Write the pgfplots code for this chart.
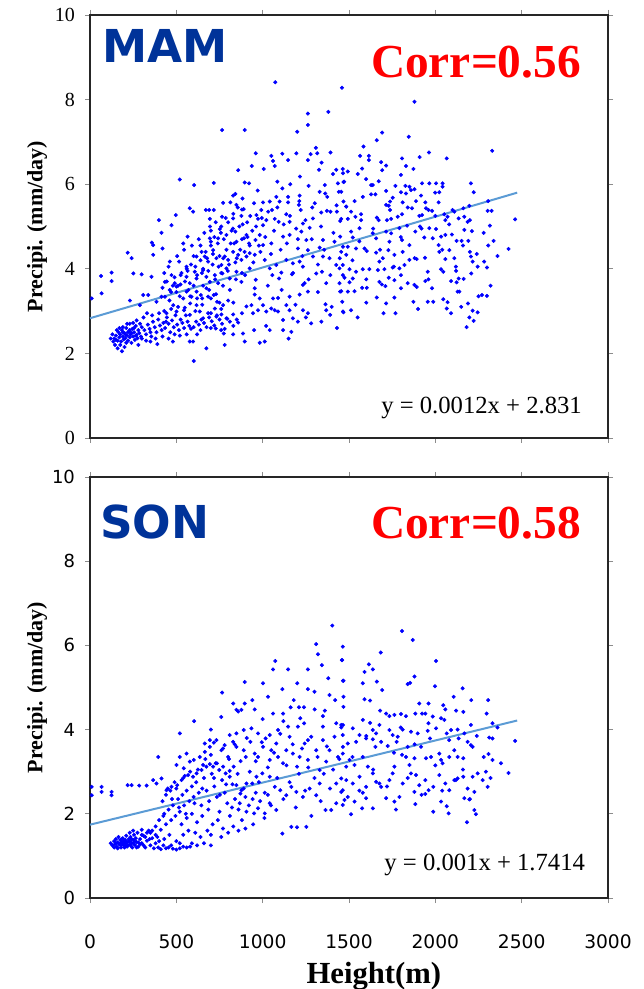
\documentclass[border=0pt]{standalone}
\usepackage{pgfplots}
\pgfplotsset{compat=1.18}
\usepackage{fontspec}
\setmainfont{Liberation Serif}
\setsansfont{DejaVu Sans}
\definecolor{dotblue}{RGB}{0,0,255}
\definecolor{fitblue}{RGB}{91,155,213}
\definecolor{seasonblue}{RGB}{0,51,153}
\definecolor{corrred}{RGB}{255,0,0}

\pgfplotsset{
  panel/.style={
    scale only axis, width=388.5pt,
    xmin=0, xmax=3000, ymin=0, ymax=10,
    xtick={0,500,...,3000}, ytick={0,2,...,10},
    tick align=outside, major tick length=3.75pt,
    tick style={black!45, line width=0.7pt},
    axis line style={black!85, line width=1.8pt},
    /pgf/number format/assume math mode=true,
    /pgf/number format/1000 sep={},
    clip=false,
  },
  dots/.style={only marks, mark=*, mark size=1.3pt, color=dotblue},
  fit/.style={color=fitblue, line width=1.5pt, no marks},
}
\tikzset{eqn/.style={anchor=base east, font=\fontsize{18.5}{18.5}\selectfont, inner sep=0pt}}

\begin{document}
\begin{tikzpicture}
\useasboundingbox (0,0) rectangle (482.25pt,741.75pt);

% ---------------- MAM ----------------
\begin{axis}[panel, height=317.25pt,
  at={(67.5pt,413.25pt)}, anchor=south west,
  xticklabels={},
  yticklabel style={font=\fontsize{15}{15}\selectfont, xshift=-4pt},
]
\addplot[dots] coordinates {
(1073,8.41)(1459,8.28)(1262,7.67)(1380,7.71)(1262,7.40)(765,7.28)(896,7.28)(1200,7.24)
(1308,6.86)(960,6.73)(1050,6.67)(1060,6.55)(1114,6.72)(1195,6.73)(1278,6.71)(1316,6.73)(1393,6.75)(1341,6.51)(1262,6.57)(1147,6.57)(1070,6.43)(1006,6.36)(937,6.43)(858,6.33)(1426,6.34)(1465,6.26)(1407,6.24)(1326,6.34)
(520,6.11)(603,5.98)(717,6.03)(896,6.04)(921,6.02)(971,5.85)(1085,6.06)(1160,6.0)(1114,5.9)(1216,6.18)(1266,5.96)(1360,5.98)(1436,6.02)(1472,6.06)(1441,5.82)(1330,5.82)(1362,5.78)(1214,5.73)(1147,5.70)(1079,5.70)(1041,5.59)(1002,5.57)(950,5.55)(883,5.66)(842,5.77)(829,5.73)(813,5.57)(848,5.51)(771,5.56)(890,5.41)(992,5.39)(1054,5.39)(1098,5.59)(1147,5.57)(1210,5.51)(1220,5.39)(1287,5.45)(1372,5.37)(1430,5.35)(1484,5.47)(1468,5.59)
(578,5.43)(597,5.35)(671,5.39)(694,5.18)(690,5.39)(717,5.39)(765,5.23)(829,5.19)(877,5.25)(964,5.27)(973,5.18)(1021,5.15)(1002,5.03)(1070,5.18)(1093,5.11)(1137,5.29)(1156,5.11)(1233,5.07)(1224,4.88)(1272,4.97)(1291,5.19)(1339,5.33)(1393,5.35)(1449,5.13)(1493,5.18)
(399,5.15)(497,5.27)(472,5.03)(414,4.85)(358,4.62)(366,4.56)(565,4.76)(540,4.6)(694,4.72)(700,4.64)(752,4.94)(742,4.72)(790,4.80)(842,4.88)(848,4.64)(892,4.72)(906,4.80)(921,4.6)(958,4.68)(983,4.8)(1002,4.56)(1050,4.6)(1118,4.76)(1156,4.8)(1204,4.70)(1253,4.68)(1204,4.48)(1262,4.44)(1330,4.5)(1349,4.68)(1416,4.64)(1449,4.76)(1465,4.52)(1484,4.33)
(218,4.38)(241,4.25)(366,4.33)(420,4.48)(462,4.17)(516,4.17)(559,4.05)(617,4.29)(646,4.4)(665,4.29)(684,4.17)(713,4.44)(732,4.25)(761,4.09)(780,4.29)(800,4.21)(829,4.4)(858,4.33)(877,4.21)(906,4.29)(925,4.37)(954,4.33)(987,4.4)(1012,4.21)(1041,4.01)(1079,4.09)(1137,4.21)(1175,4.13)(1214,4.17)(1233,4.05)(1291,4.29)(1349,4.29)(1387,4.25)(1426,4.09)(1445,4.01)(1465,3.85)
(64,3.83)(125,3.91)(125,3.71)(251,3.89)(299,3.87)(356,3.81)(434,3.69)(472,3.85)(491,3.66)(524,3.63)(559,3.81)(578,3.66)(607,3.93)(617,3.77)(655,3.97)(674,3.81)(694,3.69)(723,3.85)(742,3.66)(767,3.89)(790,4.01)(809,3.77)(848,3.93)(877,3.69)(925,4.01)(960,3.74)(954,3.54)(1056,3.85)(1095,3.77)(1108,3.91)(1170,3.87)(1233,3.62)(1243,3.66)(1310,3.89)(1343,3.93)(1368,3.66)(1445,3.66)(1449,3.46)
(10,3.3)(67,3.42)(231,3.25)(289,3.14)(308,3.38)(337,3.38)(385,3.22)(414,3.34)(462,3.5)(501,3.58)(559,3.46)(588,3.34)(617,3.46)(642,3.38)(674,3.54)(684,3.34)(717,3.38)(736,3.22)(723,3.06)(771,3.14)(954,3.39)(983,3.3)(1060,3.3)(1089,3.31)(1156,3.34)(1214,3.39)(1262,3.46)(1364,3.16)(1461,3.22)
(434,3.34)(482,3.14)(443,2.95)(501,2.99)(549,3.08)(578,2.91)(617,3.14)(636,2.99)(655,2.83)(684,2.95)(732,2.87)(761,2.92)(790,2.83)(829,2.92)(858,2.73)(906,3.11)(935,3.14)(944,2.95)(973,3.02)(1002,3.14)(1021,2.99)(1050,3.06)(1070,3.02)(1089,2.99)(1118,2.79)(1137,3.14)(1156,3.02)(1175,2.83)(1204,2.75)(1233,3.02)(1262,2.95)(1281,2.71)(1368,3.02)(1391,2.91)(1465,2.99)(886,2.47)(896,2.28)(983,2.25)(1012,2.28)(1041,2.55)(1118,2.55)(1166,2.51)(829,2.45)(780,2.2)(728,2.59)(775,2.47)(674,2.12)(601,1.82)(578,2.28)(597,2.28)
(1879,7.95)(1692,7.22)(1661,7.04)(1846,7.12)(1584,6.89)(1564,6.67)(1615,6.67)(1615,6.57)(1686,6.52)(1715,6.44)(1807,6.61)(1830,6.43)(1873,6.36)(1909,6.64)(1963,6.75)(2066,6.61)(2329,6.79)
(1464,6.36)(1493,6.3)(1551,6.24)(1576,6.37)(1599,6.12)(1628,5.98)(1638,5.98)(1672,6.07)(1692,6.33)(1801,6.22)(1769,5.96)(1827,5.96)(1850,5.94)(1879,5.88)(1923,6.02)(1965,6.02)(2004,6.02)(2042,6.02)(2042,5.94)(2206,6.02)(2222,5.81)(1468,6.05)(1455,5.82)
(1532,5.6)(1580,5.7)(1628,5.76)(1653,5.76)(1715,5.84)(1753,5.68)(1801,5.81)(1830,5.78)(1859,5.86)(1888,5.6)(1917,5.73)(1942,5.57)(1999,5.8)(2019,5.57)(2023,5.81)(1738,5.59)(1730,5.49)(1715,5.51)(1811,5.57)
(1484,5.47)(1512,5.35)(1537,5.23)(1570,5.29)(1570,5.15)(1455,5.18)(1661,5.21)(1672,5.15)(1738,5.39)(1744,5.18)(1782,5.23)(1807,5.29)(1865,5.43)(1907,5.25)(1923,5.27)(1946,5.43)(1961,5.39)(1981,5.37)(2052,5.29)(2058,5.15)(2071,5.23)(2100,5.39)(2110,5.35)(2135,5.19)(2162,5.43)(2168,5.23)(2187,5.11)(2197,5.49)(2306,5.6)(2303,5.37)(2326,5.37)(2316,5.02)(2462,5.17)
(1512,4.88)(1522,4.74)(1561,4.96)(1638,4.84)(1657,4.72)(1715,4.88)(1734,4.64)(1744,4.84)(1792,4.96)(1807,4.68)(1836,5.02)(1850,4.56)(1884,4.88)(1911,5.0)(1936,4.74)(1965,4.96)(1985,4.72)(2004,4.94)(2033,4.76)(2058,4.8)(2096,4.81)(2123,4.66)(2152,4.66)(2168,4.92)(2191,4.66)(2212,4.89)(2337,4.66)(2306,4.55)(2424,4.47)
(1455,4.4)(1493,4.52)(1541,4.48)(1590,4.48)(1603,4.42)(1657,4.38)(1676,4.17)(1696,4.25)(1728,4.44)(1763,4.33)(1811,4.4)(1821,4.09)(1850,4.21)(1892,4.23)(1940,4.26)(1956,3.93)(2019,4.56)(2023,4.4)(2058,4.23)(2081,4.44)(2110,4.25)(2119,4.05)(2200,4.4)(2206,4.29)(2216,4.17)(2245,4.05)(2283,4.17)(2299,4.03)
(1464,4.09)(1503,3.99)(1541,3.93)(1580,3.99)(1618,3.99)(1667,3.97)(1705,3.99)(1730,3.79)(1753,4.03)(1792,4.01)(1801,3.85)(1676,3.69)(1690,3.63)(1711,3.59)(1763,3.73)(1801,3.54)(1840,3.66)(1879,3.62)(1892,3.57)(1942,3.71)(1981,3.54)(2033,3.99)(2046,3.93)(2091,3.71)(2123,3.68)(2135,3.77)(2139,3.46)(2164,3.76)(2208,3.89)(1474,3.79)(1503,3.68)(1522,3.77)(1532,3.47)(1576,3.55)(1603,3.55)(1455,3.47)(1493,3.46)
(1468,2.97)(1512,3.02)(1661,3.32)(1715,3.18)(1763,3.32)(1769,2.95)(1873,3.22)(1956,3.22)(1988,3.22)(2046,3.28)(2071,3.21)(2066,3.06)(2091,2.95)(2129,3.46)(2189,3.18)(2216,3.01)(2245,2.97)(2270,3.38)(2299,3.36)(2197,2.85)(2222,2.77)(2181,2.62)
(140,2.35)(150,2.42)(160,2.3)(165,2.5)(170,2.38)(175,2.45)(180,2.28)(185,2.55)(190,2.4)(195,2.33)(200,2.48)(205,2.36)(210,2.6)(215,2.42)(220,2.3)(225,2.52)(230,2.38)(235,2.45)(240,2.25)(245,2.58)(250,2.4)(255,2.5)(260,2.32)(265,2.65)(270,2.44)(275,2.36)(280,2.55)(285,2.48)(290,2.7)(295,2.4)(300,2.62)(120,2.35)(130,2.45)(135,2.28)(145,2.2)(155,2.55)(175,2.2)(190,2.62)(200,2.15)(210,2.25)(230,2.7)(250,2.72)(185,2.05)(160,2.12)(220,2.5)(205,2.45)(240,2.48)(265,2.42)
(315,2.55)(325,2.45)(335,2.68)(345,2.58)(355,2.4)(365,2.75)(375,2.62)(385,2.5)(395,2.8)(405,2.66)(415,2.55)(425,2.72)(435,2.6)(445,2.85)(455,2.7)(465,2.5)(475,2.78)(485,2.62)(495,2.9)(505,2.68)(515,2.55)(525,2.8)(535,2.72)(545,2.6)(555,2.9)(565,2.75)(575,2.65)(585,2.58)(325,2.3)(350,2.28)(380,2.35)(420,2.4)(455,2.35)(490,2.45)(520,2.42)(560,2.45)(600,2.62)(615,2.75)(630,2.68)(645,2.8)(660,2.72)(675,2.62)(690,2.85)(705,2.76)(720,2.66)(735,2.9)(750,2.8)(765,2.7)(780,2.58)(795,2.82)(810,2.75)(640,2.55)(700,2.6)(760,2.55)(830,2.65)(850,2.8)
(400,2.95)(360,2.9)(430,3.0)(470,3.05)(510,3.1)(545,3.02)(580,3.18)(610,3.0)(440,2.75)(270,2.78)(310,2.85)(330,2.95)(620,2.45)(480,2.28)(390,2.22)(350,2.5)(300,2.35)(280,2.2)(255,2.6)(230,2.55)(190,2.5)(170,2.6)(150,2.32)(215,2.7)
(420,3.55)(445,3.7)(470,3.45)(490,3.8)(510,3.6)(530,3.9)(550,3.7)(570,3.5)(585,4.1)(600,3.6)(620,3.85)(640,4.2)(655,3.6)(670,4.4)(685,3.95)(700,4.55)(710,4.1)(725,3.75)(740,4.6)(750,4.3)(760,3.9)(775,4.7)(790,4.45)(805,4.1)(820,4.9)(835,4.6)(850,4.25)(865,5.0)(880,4.7)(895,4.4)(910,5.1)(925,4.55)(940,4.9)(655,4.0)(690,3.5)(730,3.4)(770,3.6)(810,3.5)(845,3.75)(880,3.9)(620,3.3)(580,3.35)(540,3.3)(500,3.45)(460,3.25)(600,4.3)(560,4.0)(520,3.35)(650,3.3)(700,3.3)(750,3.2)(800,3.25)(640,4.55)(760,5.0)(700,4.9)(800,5.1)(830,5.3)(880,5.4)(720,4.75)
(430,3.9)(455,4.05)(480,3.6)(505,4.3)(525,3.85)(545,4.45)(565,3.95)(590,4.55)(610,4.05)(630,4.7)(648,3.9)(662,4.85)(678,4.25)(695,5.0)(712,4.35)(728,5.1)(745,4.05)(758,4.85)(772,4.25)(786,5.2)(798,3.95)(815,4.6)(828,4.95)(842,4.15)(856,5.45)(870,4.45)(884,5.05)(898,3.85)(912,4.75)(928,5.25)(946,4.15)(962,5.0)(978,4.55)(995,5.2)(1015,4.75)(1032,5.35)(1048,4.35)(1066,4.9)(1085,5.45)(1104,4.45)(1122,5.05)(1140,4.6)(1158,5.25)(1176,3.9)(1194,4.95)(1212,5.6)(1230,4.3)(1248,5.15)(1266,3.75)(1284,4.7)(1302,5.55)(1320,4.1)(1338,5.0)(1356,4.45)(1374,5.7)(1392,3.85)(1410,4.85)(1428,5.5)(1446,4.25)
(1030,3.6)(1110,3.5)(1190,3.15)(1250,2.85)(1320,3.45)(1400,3.1)(1430,2.6)(1340,2.75)(1150,2.35)(1020,2.65)(950,2.55)(880,2.95)(830,3.2)(760,3.05)(700,2.95)(650,3.15)
(1520,4.2)(1560,4.65)(1600,3.75)(1640,4.95)(1680,4.45)(1720,5.15)(1760,4.05)(1800,4.75)(1840,5.45)(1880,4.25)(1920,4.95)(1960,3.75)(2000,5.25)(2040,4.45)(2080,5.05)(2120,3.95)(2160,4.55)(2200,5.15)(2240,4.35)(2280,4.85)(2320,3.6)(2360,4.3)(2250,3.35)(2150,3.1)(1900,3.05)(1700,2.95)(1600,3.2)(1550,2.85)
};
\addplot[fit] coordinates {(0,2.831) (2474,5.7998)};
\node[anchor=base west, font=\sffamily\bfseries\fontsize{34}{34}\selectfont, text=seasonblue, inner sep=0pt]
  at (rel axis cs:0.023,0.887) {MAM};
\node[anchor=base east, font=\bfseries\fontsize{35.5}{35.5}\selectfont, text=corrred, inner sep=0pt]
  at (rel axis cs:0.948,0.853) {Corr=0.56};
\node[eqn] at (rel axis cs:0.950,0.059) {y = 0.0012x + 2.831};
\node[rotate=90, font=\bfseries\fontsize{16.5}{16.5}\selectfont, inner sep=0pt]
  at (rel axis cs:-0.102,0.5) {Precipi. (mm/day)};
\end{axis}

% ---------------- SON ----------------
\begin{axis}[panel, height=315.75pt,
  at={(67.5pt,68.25pt)}, anchor=south west,
  yticklabel style={font=\sffamily\fontsize{13.5}{13.5}\selectfont, xshift=-4pt},
  xticklabel style={font=\sffamily\fontsize{14}{14}\selectfont, yshift=-20pt},
]
\addplot[dots] coordinates {
(10,2.64)(67,2.64)(67,2.52)(10,2.44)(125,2.52)(125,2.44)(395,3.35)
(1403,6.47)(1310,6.03)(1320,5.79)(1343,5.53)(1459,5.65)(1073,5.63)(1060,5.43)(1147,5.43)(1262,5.43)(1380,5.22)(1465,5.16)(1200,5.1)(1262,4.96)(1114,4.96)(1002,5.1)(896,5.13)(1031,4.78)(765,4.88)(1387,4.82)(829,4.62)(896,4.62)(848,4.47)(858,4.43)(877,4.47)(954,4.48)(1060,4.38)(1118,4.38)(1162,4.53)(1210,4.53)(1239,4.53)(1218,4.27)(1301,4.48)(1349,4.32)(1455,4.05)(603,4.2)(520,3.91)
(1807,6.34)(1869,6.13)(1684,5.83)(2004,5.63)(1464,5.97)(1460,5.65)(1615,5.55)(1590,5.37)(1638,5.43)(1468,5.16)(1580,5.1)(1661,5.14)(1692,4.94)(1840,5.08)(1879,5.26)(1854,5.11)(1998,5.03)(2158,4.98)(2106,4.78)(2208,4.7)(2306,4.7)(1468,4.78)(1590,4.72)(1622,4.69)(1468,4.54)(1907,4.62)(1961,4.62)(2046,4.58)(2058,4.48)(2162,4.42)(2297,4.38)
(1734,4.32)(1715,4.38)(1763,4.35)(1801,4.37)(1830,4.32)(1884,4.38)(1923,4.38)(1942,4.38)(1985,4.31)(2033,4.27)(2052,4.23)(1580,4.23)(1622,4.16)(1676,4.11)(1455,4.11)(1464,3.87)(1522,4.03)(1561,3.87)(1638,3.99)(1657,3.91)(1734,3.99)(1753,3.87)(1782,3.83)(1811,4.0)(1859,3.95)(1898,3.91)(1956,3.97)(1969,3.79)(2004,4.03)(2066,3.91)(2091,3.99)(2129,4.0)(2135,3.79)(2168,3.91)(2206,4.11)(2331,4.15)(2312,3.81)(2331,3.79)(2462,3.73)
(1493,3.67)(1541,3.71)(1599,3.79)(1638,3.77)(1653,3.59)(1686,3.71)(1724,3.61)(1776,3.71)(1807,3.4)(1830,3.35)(1840,3.59)(1879,3.32)(1917,3.59)(1946,3.32)(1975,3.35)(2023,3.43)(2033,3.28)(2042,3.2)(2081,3.35)(2110,3.51)(2129,3.35)(2162,3.32)(2187,3.71)(2206,3.63)(2216,3.59)(2308,3.42)(2331,3.28)(2245,2.96)(2293,3.0)(2303,2.64)(2424,2.97)
(1464,3.43)(1503,3.28)(1532,3.16)(1580,3.35)(1609,3.12)(1638,2.96)(1657,2.76)(1676,2.72)(1686,2.64)(1734,2.8)(1753,2.96)(1763,3.12)(1811,2.72)(1850,3.16)(1859,2.96)(1888,2.92)(1907,2.68)(1942,2.8)(1961,2.56)(1988,2.64)(2023,2.92)(2058,2.72)(2081,2.56)(2110,2.8)(2129,2.84)(2162,2.88)(2187,2.6)(2216,2.88)(2274,2.8)(2226,2.52)(2168,2.37)(2197,2.34)(1599,2.64)(1561,2.88)(1522,2.72)(1484,2.8)(1455,2.84)(1464,2.56)(1493,2.4)(1532,2.29)(1580,2.5)(1599,2.37)(1638,2.13)(1715,2.37)(1763,2.29)(1772,2.1)(1792,2.4)(1879,2.52)(1884,2.23)(1942,2.47)(1988,2.05)(2033,2.29)(2066,2.18)(2077,2.01)(2119,2.8)(2226,2.09)(2235,1.99)(2183,1.8)(1512,1.99)(1464,2.21)(1576,2.13)
(218,2.68)(241,2.68)(285,2.67)(328,2.67)(366,2.8)(385,2.72)(414,2.84)(443,2.56)(472,2.64)(505,2.68)(530,2.8)(549,2.9)(568,2.92)(597,2.88)(617,2.96)(646,3.04)(655,3.16)(674,3.12)(694,3.18)(713,3.12)(728,3.2)(748,3.04)(771,3.12)(786,2.96)(809,3.02)(832,3.12)(809,2.88)(848,2.68)(877,2.56)(871,2.48)(906,2.72)(940,2.72)(964,2.88)(998,2.96)(1041,2.88)(1070,2.64)(1102,2.56)(1137,2.44)(1166,2.64)(1195,2.52)(1233,2.4)(1272,2.6)(1310,2.44)(1330,2.72)(1364,2.09)(1397,2.09)(1426,2.72)(1455,2.52)(1474,2.33)(867,2.25)(906,2.05)(950,2.01)(973,2.13)(1012,2.01)(1041,2.25)(1079,2.09)(1114,1.53)(1166,1.69)(1199,1.68)(1253,1.69)
(559,3.43)(520,3.35)(501,3.16)(543,3.08)(578,3.24)(601,3.28)(636,3.35)(665,3.47)(694,3.59)(717,3.69)(732,3.75)(761,3.51)(780,3.63)(800,3.35)(829,3.71)(848,3.59)(890,3.51)(902,3.35)(929,3.71)(954,3.43)(973,3.35)(1002,3.59)(1017,3.79)(1041,3.28)(1050,3.51)(1079,3.67)(1089,3.35)(1118,3.2)(1137,3.51)(1156,3.83)(1175,3.43)(1199,3.12)(1214,3.35)(1243,3.67)(1262,3.28)(1281,3.83)(1310,3.51)(1330,3.04)(1349,3.75)(1368,3.24)(1387,3.51)(1416,3.83)(1436,3.35)(1465,3.59)(1484,3.12)(973,3.91)(1041,3.87)(1089,3.99)(1147,4.07)(1204,4.07)(1262,3.75)(1349,4.07)(1426,4.15)(1465,4.11)(809,3.87)(848,3.91)(890,3.99)(935,4.03)(694,3.75)(665,3.67)
(350,1.55)(380,1.7)(400,1.85)(410,1.62)(425,1.95)(440,1.75)(455,2.1)(470,1.85)(480,2.2)(495,1.95)(510,2.35)(520,2.05)(535,2.45)(545,2.2)(560,2.55)(575,2.3)(590,2.65)(600,2.4)(615,2.75)(630,2.5)(645,2.2)(660,2.85)(675,2.55)(690,2.3)(705,2.95)(720,2.65)(735,2.4)(750,2.05)(765,2.8)(780,2.5)(795,2.25)(810,1.95)(825,2.7)(840,2.35)(860,2.1)(880,1.85)(900,2.4)(920,2.2)(945,1.75)(960,2.5)(985,2.3)(1010,1.9)(1030,2.45)(420,2.3)(440,2.45)(465,2.55)(500,2.6)(530,1.75)(560,1.9)(590,2.0)(620,1.8)(650,1.95)(680,1.6)(710,1.75)(740,1.85)(770,1.65)(800,1.55)(830,1.7)(860,1.6)(900,1.65)(540,1.5)(570,1.6)(610,1.55)(640,1.45)(700,1.5)(760,1.45)(500,1.35)(460,1.5)(430,1.4)(390,1.45)(470,1.25)(520,1.3)(590,1.3)(660,1.3)(700,1.25)(620,1.25)
(120,1.3)(130,1.25)(140,1.35)(145,1.28)(150,1.4)(155,1.22)(160,1.32)(165,1.45)(170,1.27)(175,1.38)(180,1.2)(185,1.33)(190,1.42)(195,1.25)(200,1.36)(205,1.3)(210,1.48)(215,1.22)(220,1.34)(225,1.4)(230,1.27)(235,1.45)(240,1.31)(245,1.2)(250,1.38)(255,1.5)(260,1.26)(265,1.42)(270,1.33)(275,1.55)(280,1.22)(290,1.4)(300,1.3)(310,1.48)(320,1.2)(330,1.36)(340,1.6)(350,1.25)(360,1.42)(370,1.18)(380,1.3)(395,1.2)(410,1.16)(425,1.25)(440,1.18)(455,1.2)(480,1.17)(500,1.15)(520,1.18)(540,1.22)(560,1.2)(580,1.22)
(175,1.3)(190,1.28)(205,1.38)(220,1.25)(160,1.18)(200,1.2)(230,1.35)(250,1.3)(185,1.4)(140,1.2)(215,1.32)(235,1.25)(260,1.35)(280,1.32)(300,1.5)(320,1.45)(270,1.2)(150,1.3)(180,1.26)(195,1.34)(210,1.24)(240,1.4)(290,1.28)(310,1.25)(330,1.55)(345,1.4)(360,1.6)(380,1.5)(400,1.35)(250,1.6)(300,1.62)(230,1.55)
(430,2.0)(450,2.6)(475,2.35)(490,2.75)(515,2.15)(540,2.85)(555,2.0)(580,3.0)(605,2.25)(625,3.05)(650,2.6)(668,3.3)(685,2.1)(700,3.4)(718,2.85)(735,3.2)(752,2.45)(770,3.55)(788,2.7)(805,3.3)(822,2.15)(838,3.65)(855,2.95)(872,3.25)(890,2.6)(908,3.8)(925,3.0)(942,2.35)(960,3.25)(978,2.75)(995,3.7)(1012,2.5)(1030,3.1)(1048,2.2)(1066,3.45)(1084,2.85)(1102,3.9)(1120,2.35)(1138,3.15)(1156,2.75)(1174,3.65)(1192,2.15)(1210,2.95)(1228,3.55)(1246,2.55)(1264,3.1)(1282,1.95)(1300,2.85)(1318,3.35)(1336,2.3)(1354,2.95)(1372,3.6)(1390,2.6)(1408,3.05)(1426,2.25)(1444,3.3)(1120,4.2)(1180,4.7)(1240,4.15)(1300,4.9)(1360,4.45)(1420,4.7)(1000,4.25)(940,4.7)(700,4.0)(760,4.3)
(1520,3.35)(1560,2.55)(1600,3.85)(1640,3.05)(1680,4.45)(1720,2.65)(1760,3.45)(1800,4.05)(1840,2.85)(1880,3.65)(1920,2.45)(1960,4.15)(2000,3.15)(2040,2.55)(2080,3.75)(2120,4.45)(2160,3.05)(2200,2.35)(2240,3.85)(2280,3.35)(2320,2.85)(2360,4.05)(2380,3.2)
};
\addplot[fit] coordinates {(0,1.7414) (2474,4.2154)};
\node[anchor=base west, font=\sffamily\bfseries\fontsize{34}{34}\selectfont, text=seasonblue, inner sep=0pt]
  at (rel axis cs:0.019,0.855) {SON};
\node[anchor=base east, font=\bfseries\fontsize{35.5}{35.5}\selectfont, text=corrred, inner sep=0pt]
  at (rel axis cs:0.948,0.855) {Corr=0.58};
\node[eqn] at (rel axis cs:0.956,0.0665) {y = 0.001x + 1.7414};
\node[rotate=90, font=\bfseries\fontsize{16.5}{16.5}\selectfont, inner sep=0pt]
  at (rel axis cs:-0.102,0.5) {Precipi. (mm/day)};
\node[anchor=base, font=\bfseries\fontsize{23}{23}\selectfont, inner sep=0pt]
  at (rel axis cs:0.548,-0.202) {Height(m)};
\end{axis}
\end{tikzpicture}
\end{document}
